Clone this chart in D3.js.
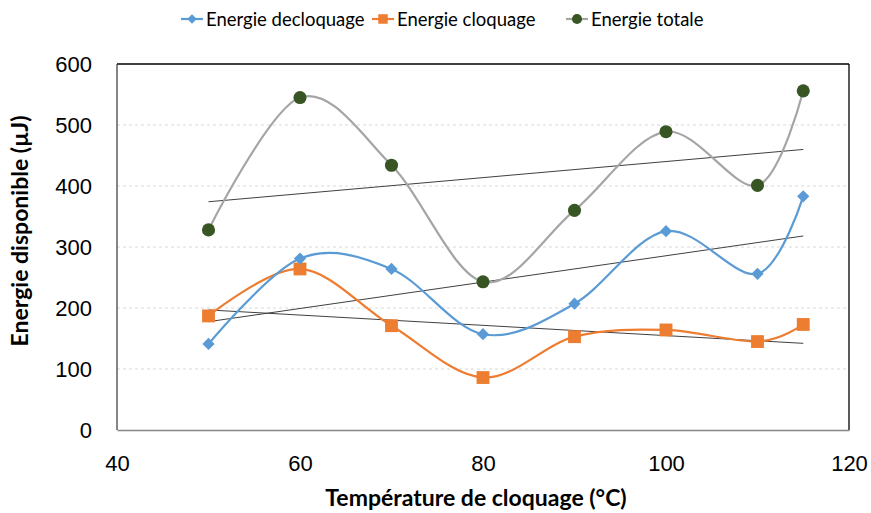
<!DOCTYPE html>
<html><head><meta charset="utf-8">
<script src="https://cdn.jsdelivr.net/npm/d3@7"></script>
<style>body{margin:0;background:#fff}svg{display:block;font-family:Lato,"Open Sans",sans-serif}</style>
</head><body><svg id="c" width="871" height="513"></svg>
<script>
const temps = [50, 60, 70, 80, 90, 100, 110, 115];
const decloquage = [141, 281, 264, 157, 207, 326, 256, 383];
const cloquage = [187, 264, 171, 86, 153, 164, 145, 173];
const totale = [328, 545, 434, 243, 360, 489, 401, 556];
const xTicks = [40, 60, 80, 100, 120];
const yTicks = [0, 100, 200, 300, 400, 500, 600];
const seriesNames = ["Energie decloquage", "Energie cloquage", "Energie totale"];

const svg = d3.select("#c");
const L = 117, R = 849, T = 64, B = 430;
const x = d3.scaleLinear().domain([40, 120]).range([L, R]);
const y = d3.scaleLinear().domain([0, 600]).range([B, T]);

// gridlines
svg.append("g").selectAll("line").data(yTicks.filter(d => d > 0 && d < 600)).join("line")
  .attr("x1", L).attr("x2", R).attr("y1", d => y(d)).attr("y2", d => y(d))
  .attr("stroke", "#d9d9d9").attr("stroke-width", 1).attr("stroke-dasharray", "3,3");

// border
svg.append("line").attr("x1", L).attr("x2", R).attr("y1", T).attr("y2", T).attr("stroke", "#000").attr("stroke-width", 1.3);
svg.append("line").attr("x1", R).attr("x2", R).attr("y1", T).attr("y2", B).attr("stroke", "#000").attr("stroke-width", 1.3);
svg.append("line").attr("x1", L).attr("x2", L).attr("y1", T).attr("y2", B).attr("stroke", "#444").attr("stroke-width", 1.3);

// axes
const xa = svg.append("g").attr("transform", `translate(0,${B})`)
  .call(d3.axisBottom(x).tickValues(xTicks).tickSize(0).tickPadding(25));
xa.select(".domain").attr("stroke", "#868686").attr("stroke-width", 1.5);
xa.selectAll("text").attr("font-size", 22).attr("fill", "#000");
const ya = svg.append("g").attr("transform", `translate(${L},0)`)
  .call(d3.axisLeft(y).tickValues(yTicks).tickSize(0).tickPadding(25));
ya.select(".domain").remove();
ya.selectAll("text").attr("font-size", 22).attr("fill", "#000");

svg.append("text").attr("x", 476).attr("y", 506).attr("text-anchor", "middle")
  .attr("font-size", 23).attr("font-weight", "bold").text("Température de cloquage (°C)");
svg.append("text").attr("transform", "translate(28,231) rotate(-90)").attr("text-anchor", "middle")
  .attr("font-size", 23).attr("font-weight", "bold").text("Energie disponible (µJ)");

// trendlines (linear regression)
function reg(xs, ys) {
  const mx = d3.mean(xs), my = d3.mean(ys);
  let sxy = 0, sxx = 0;
  xs.forEach((v, i) => { sxy += (v - mx) * (ys[i] - my); sxx += (v - mx) * (v - mx); });
  const b = sxy / sxx, a = my - b * mx;
  return v => a + b * v;
}
const x0 = d3.min(temps), x1 = d3.max(temps);
[decloquage, cloquage, totale].forEach(vals => {
  const f = reg(temps, vals);
  svg.append("line").attr("x1", x(x0)).attr("x2", x(x1)).attr("y1", y(f(x0))).attr("y2", y(f(x1)))
    .attr("stroke", "#404040").attr("stroke-width", 1);
});

const line = d3.line().x(d => x(d[0])).y(d => y(d[1])).curve(d3.curveCardinal.tension(0));
const series = [
  {vals: totale, line: "#a5a5a5", fill: "#375623", sym: d3.symbolCircle, size: 135, rot: 0},
  {vals: cloquage, line: "#ed7d31", fill: "#ed7d31", sym: d3.symbolSquare, size: 165, rot: 0},
  {vals: decloquage, line: "#5b9bd5", fill: "#5b9bd5", sym: d3.symbolSquare, size: 75, rot: 45}
];
series.forEach(s => {
  const pts = temps.map((t, i) => [t, s.vals[i]]);
  svg.append("path").attr("d", line(pts)).attr("fill", "none").attr("stroke", s.line).attr("stroke-width", 2.2);
});
series.forEach(s => {
  svg.append("g").selectAll("path").data(temps.map((t, i) => [t, s.vals[i]])).join("path")
    .attr("transform", d => `translate(${x(d[0])},${y(d[1])}) rotate(${s.rot})`)
    .attr("d", d3.symbol().type(s.sym).size(s.size)).attr("fill", s.fill);
});

// legend
const leg = [
  {name: seriesNames[0], line: "#5b9bd5", fill: "#5b9bd5", sym: d3.symbolSquare, size: 45, rot: 45, x: 181},
  {name: seriesNames[1], line: "#ed7d31", fill: "#ed7d31", sym: d3.symbolSquare, size: 90, rot: 0, x: 372},
  {name: seriesNames[2], line: "#a5a5a5", fill: "#375623", sym: d3.symbolCircle, size: 80, rot: 0, x: 566}
];
const lg = svg.append("g");
leg.forEach(l => {
  lg.append("line").attr("x1", l.x).attr("x2", l.x + 22).attr("y1", 19).attr("y2", 19).attr("stroke", l.line).attr("stroke-width", 2.2);
  lg.append("path").attr("transform", `translate(${l.x + 11},19) rotate(${l.rot})`).attr("d", d3.symbol().type(l.sym).size(l.size)).attr("fill", l.fill);
  lg.append("text").attr("x", l.x + 25).attr("y", 25.5).attr("font-size", 18.5).attr("fill", "#000").text(l.name);
});
</script></body></html>
